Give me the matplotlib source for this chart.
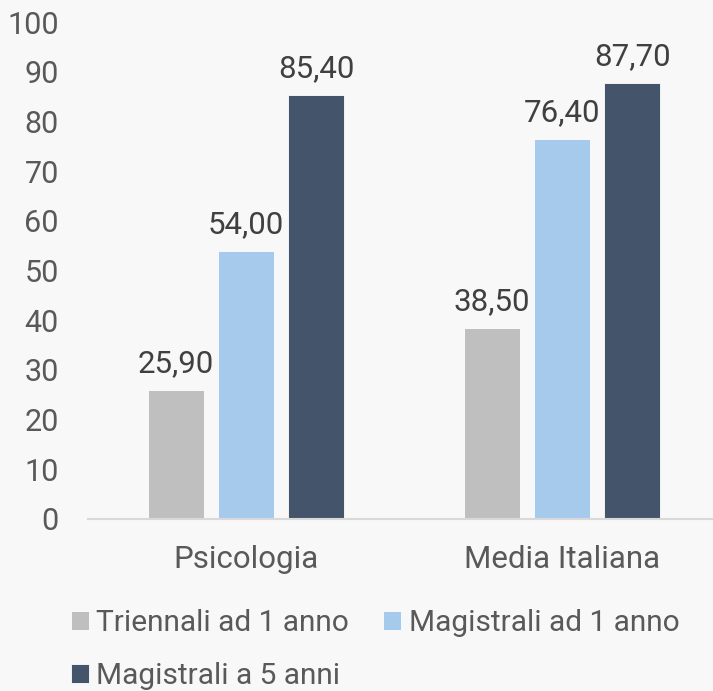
import matplotlib
matplotlib.use("Agg")
import matplotlib.pyplot as plt
import numpy as np

categories = ["Psicologia", "Media Italiana"]
series_names = ["Triennali ad 1 anno", "Magistrali ad 1 anno", "Magistrali a 5 anni"]
triennali = [25.9, 38.5]
magistrali_1 = [54.0, 76.4]
magistrali_5 = [85.4, 87.7]
yticks = list(range(0, 101, 10))

colors = ["#bfbfbf", "#a6caec", "#44546a"]
bg = "#f8f8f8"

plt.rcParams['font.family'] = ['Roboto', 'DejaVu Sans']

fig = plt.figure(figsize=(7.13, 6.91), dpi=100, facecolor=bg)
W, H = 713, 691
left, right = 88, 713
top, bottom = 22, 519
ax = fig.add_axes([left / W, 1 - bottom / H, (right - left) / W, (bottom - top) / H])
ax.set_facecolor(bg)

x = np.arange(len(categories))
width = 0.177
offset = 0.222
data = [triennali, magistrali_1, magistrali_5]
handles = []
for i, (vals, name, c) in enumerate(zip(data, series_names, colors)):
    bars = ax.bar(x + (i - 1) * offset, vals, width, color=c, label=name,
                  edgecolor="white", linewidth=0.6, zorder=2)
    handles.append(bars)
    for b, v in zip(bars, vals):
        ax.text(b.get_x() + b.get_width() / 2, v + 2.4, f"{v:.2f}".replace(".", ","),
                ha="center", va="bottom", fontsize=22.5, color="#404040")

ax.set_xlim(-0.5, -0.5 + (right - left) / 316)
ax.set_ylim(0, 100)
ax.set_yticks(yticks)
ax.set_yticklabels([str(t) for t in yticks])
ax.set_xticks(x)
ax.set_xticklabels(categories)
ax.tick_params(axis="y", length=0, labelsize=22, labelcolor="#595959", pad=21)
ax.tick_params(axis="x", length=0, labelsize=22.5, labelcolor="#595959", pad=19)
for s in ["top", "right", "left"]:
    ax.spines[s].set_visible(False)
ax.spines["bottom"].set_color("#d9d9d9")
ax.spines["bottom"].set_linewidth(1.5)

order = [0, 2, 1]
leg = fig.legend([handles[i] for i in order], [series_names[i] for i in order],
                 loc="upper left", bbox_to_anchor=(44 / W, 1 - 582 / H),
                 ncol=2, frameon=False, fontsize=21.5,
                 handlelength=0.6, handleheight=0.6,
                 handletextpad=0.25, columnspacing=1.15, labelspacing=0.85,
                 labelcolor="#595959")

fig.savefig("out.png", dpi=100, facecolor=bg)
